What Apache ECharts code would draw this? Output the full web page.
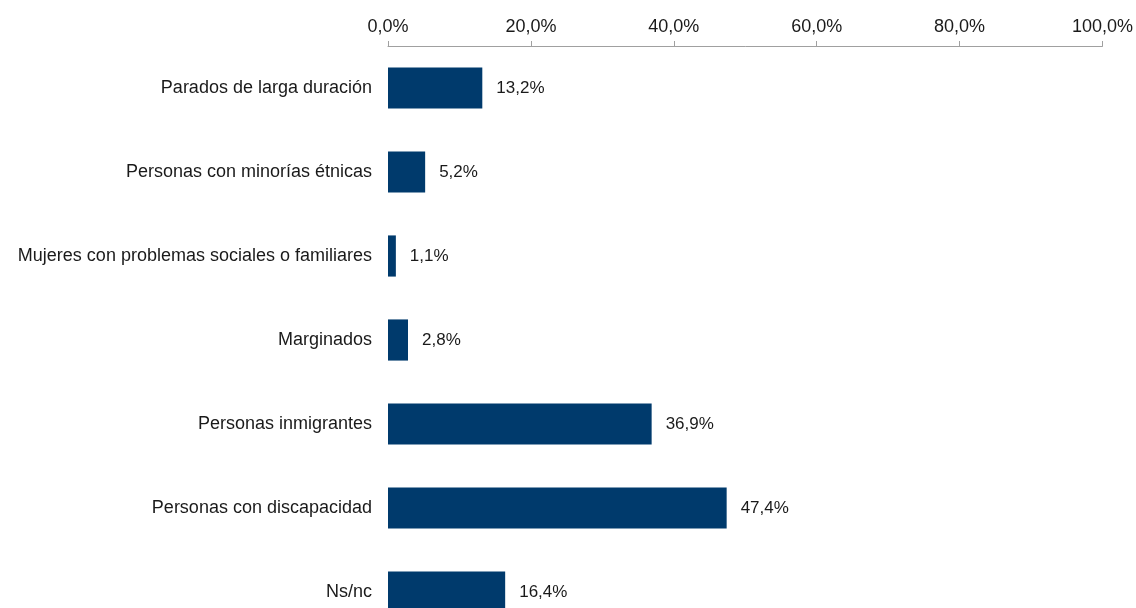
<!DOCTYPE html>
<html>
<head>
<meta charset="utf-8">
<script src="https://cdn.jsdelivr.net/npm/echarts@6/dist/echarts.min.js"></script>
<style>
  html, body { margin: 0; padding: 0; background: #fff; overflow: hidden; }
  /* the last row runs past the bottom of the window, so the canvas is taller */
  #chart { width: 1136px; height: 640px; }
</style>
</head>
<body>
<div id="chart"></div>
<script>
// Colectivos atendidos (% sobre el total)
const categories = [
  'Parados de larga duración',
  'Personas con minorías étnicas',
  'Mujeres con problemas sociales o familiares',
  'Marginados',
  'Personas inmigrantes',
  'Personas con discapacidad',
  'Ns/nc'
];
const values = [13.2, 5.2, 1.1, 2.8, 36.9, 47.4, 16.4];
const axisTicks = [0, 20, 40, 60, 80, 100];

const fmt = v => v.toFixed(1).replace('.', ',') + '%';
const font = 'Liberation Sans, Arial, sans-serif';
const textColor = '#1a1a1a';

const chart = echarts.init(document.getElementById('chart'));
chart.setOption({
  animation: false,
  grid: { left: 388, right: 33, top: 46, height: 588, containLabel: false },
  xAxis: {
    type: 'value',
    position: 'top',
    min: axisTicks[0],
    max: axisTicks[axisTicks.length - 1],
    interval: 20,
    axisLine: { show: true, lineStyle: { color: '#a0a0a0', width: 1 } },
    axisTick: { show: true, length: 5, lineStyle: { color: '#a0a0a0' } },
    splitLine: { show: false },
    axisLabel: {
      formatter: fmt,
      color: textColor,
      fontFamily: font,
      fontSize: 18,
      margin: 10
    }
  },
  yAxis: {
    type: 'category',
    data: categories,
    inverse: true,
    axisLine: { show: false },
    axisTick: { show: false },
    axisLabel: {
      color: textColor,
      fontFamily: font,
      fontSize: 18,
      margin: 16
    }
  },
  series: [{
    type: 'bar',
    data: values,
    barWidth: '49%',
    itemStyle: { color: '#003a6c' },
    label: {
      show: true,
      position: 'right',
      distance: 14,
      formatter: p => fmt(p.value),
      color: textColor,
      fontFamily: font,
      fontSize: 17
    }
  }]
});
</script>
</body>
</html>
